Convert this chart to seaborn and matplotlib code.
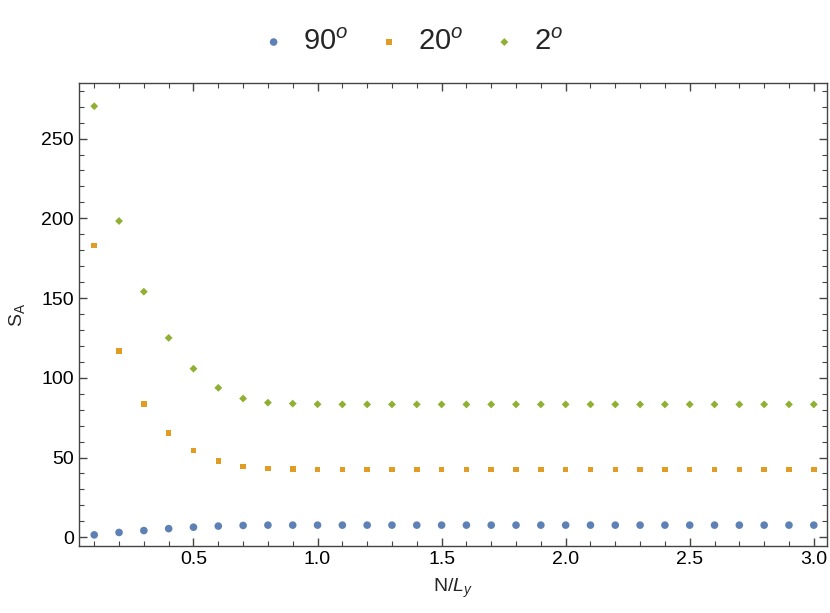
import numpy as np
import pandas as pd
import matplotlib
matplotlib.use('Agg')
import matplotlib.pyplot as plt
from matplotlib.ticker import MultipleLocator
import seaborn as sns

# data
n_over_ly = [0.1, 0.2, 0.3, 0.4, 0.5, 0.6, 0.7, 0.8, 0.9, 1.0,
             1.1, 1.2, 1.3, 1.4, 1.5, 1.6, 1.7, 1.8, 1.9, 2.0,
             2.1, 2.2, 2.3, 2.4, 2.5, 2.6, 2.7, 2.8, 2.9, 3.0]
sa_90 = [1.5, 3.0, 4.2, 5.4, 6.3, 7.0, 7.4, 7.6, 7.6, 7.6,
         7.6, 7.6, 7.6, 7.6, 7.6, 7.6, 7.6, 7.6, 7.6, 7.6,
         7.6, 7.6, 7.6, 7.6, 7.6, 7.6, 7.6, 7.6, 7.6, 7.6]
sa_20 = [182.9, 116.9, 83.5, 65.2, 54.4, 47.7, 44.3, 43.0, 42.8, 42.6,
         42.6, 42.6, 42.6, 42.6, 42.6, 42.6, 42.6, 42.6, 42.6, 42.6,
         42.6, 42.6, 42.6, 42.6, 42.6, 42.6, 42.6, 42.6, 42.6, 42.6]
sa_2 = [270.3, 198.3, 154.0, 125.0, 105.7, 93.7, 87.0, 84.4, 83.8, 83.4,
        83.3, 83.3, 83.3, 83.3, 83.3, 83.3, 83.3, 83.3, 83.3, 83.3,
        83.3, 83.3, 83.3, 83.3, 83.3, 83.3, 83.3, 83.3, 83.3, 83.3]
labels = [r'90$^{o}$', r'20$^{o}$', r'2$^{o}$']

df = pd.concat([
    pd.DataFrame({'x': n_over_ly, 'y': vals, 'angle': lab})
    for vals, lab in zip([sa_90, sa_20, sa_2], labels)
])

sns.set_style('ticks')
plt.rcParams['font.family'] = ['Liberation Sans', 'DejaVu Sans']
plt.rcParams['mathtext.fontset'] = 'custom'
plt.rcParams['mathtext.rm'] = 'Liberation Sans'
plt.rcParams['mathtext.it'] = 'Liberation Sans:italic'

palette = dict(zip(labels, ['#5E81B5', '#E19C24', '#8FB032']))
markers = dict(zip(labels, ['o', 's', 'D']))
sizes = {labels[0]: 30, labels[1]: 16, labels[2]: 16}

fig = plt.figure(figsize=(8.3, 6.13), dpi=100)
ax = fig.add_axes([0.095, 0.109, 0.901, 0.756])
for lab in labels:
    sub = df[df['angle'] == lab]
    sns.scatterplot(x='x', y='y', data=sub, color=palette[lab], marker=markers[lab],
                    s=sizes[lab], edgecolor='none', ax=ax, label=lab)

ax.set_xlim(0.038, 3.052)
ax.set_ylim(-5.6, 285)
ax.xaxis.set_major_locator(MultipleLocator(0.5))
ax.xaxis.set_minor_locator(MultipleLocator(0.1))
ax.yaxis.set_major_locator(MultipleLocator(50))
ax.yaxis.set_minor_locator(MultipleLocator(10))
ax.set_xticks([0.5, 1.0, 1.5, 2.0, 2.5, 3.0])
ax.tick_params(which='both', direction='in', top=True, right=True, color='#444444',
               labelsize=14, labelcolor='black')
ax.tick_params(which='major', length=6, width=1)
ax.tick_params(which='minor', length=3.5, width=0.8)
for sp in ax.spines.values():
    sp.set_color('#444444')
    sp.set_linewidth(1)

ax.set_xlabel(r'N/$L_y$', fontsize=14, labelpad=6)
ax.set_ylabel(r'$\mathrm{S}_\mathrm{A}$', fontsize=14, labelpad=10)

ax.legend(loc='center', bbox_to_anchor=(0.495, 0.932), bbox_transform=fig.transFigure,
          ncol=3, frameon=False, fontsize=21, markerscale=1.0, handletextpad=0.5,
          columnspacing=0.9, handlelength=1.0)

fig.savefig('out.png', dpi=100)
